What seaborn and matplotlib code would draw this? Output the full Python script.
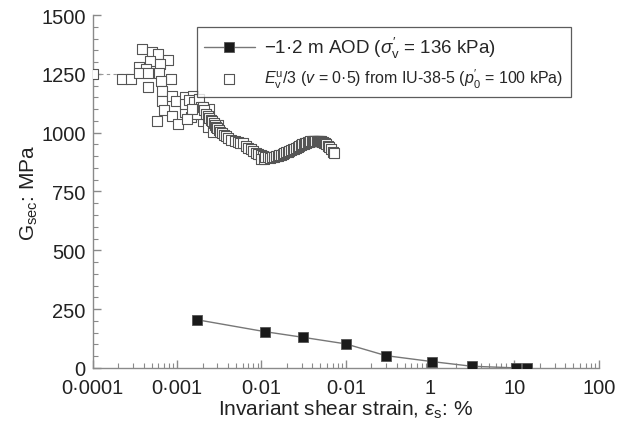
import numpy as np
import pandas as pd
import matplotlib as mpl
mpl.use("Agg")
import matplotlib.pyplot as plt
import seaborn as sns
from matplotlib.ticker import FixedLocator, FixedFormatter, LogLocator, NullFormatter, MultipleLocator

# black squares: -1.2 m AOD
aod_strain = [0.0017, 0.011, 0.031, 0.10, 0.30, 1.04, 3.1, 10.4, 14.0]
aod_g = [205, 154, 130, 102, 52, 27, 7, 0, 0]

# open squares: E_v^u/3 from IU-38-5
iu_strain = [0.0001, 0.00022, 0.00028, 0.00038, 0.0005, 0.00059, 0.00079, 0.00048, 0.00035,
             0.00043, 0.00062, 0.00035, 0.00045, 0.00061, 0.00084, 0.00045, 0.00064, 0.00066,
             0.00066, 0.0007, 0.00057, 0.00088, 0.00098, 0.00123, 0.00155, 0.00087, 0.00103,
             0.00123, 0.00148, 0.00177, 0.00203, 0.00233, 0.00267, 0.0024, 0.00306,
             0.00125, 0.0014, 0.0016, 0.0018, 0.0019, 0.0017, 0.0015, 0.0013,
             0.0020, 0.0021, 0.0022, 0.0023, 0.0024, 0.0025, 0.0026, 0.0027, 0.0028, 0.0029,
             0.0030, 0.0031, 0.0032, 0.0034, 0.0036, 0.0038,
             0.0040, 0.0044, 0.0048, 0.0052, 0.0056, 0.0060, 0.0065, 0.0070, 0.0075, 0.0080,
             0.0086, 0.0092, 0.0098, 0.0104, 0.0100, 0.0108,
             0.0110, 0.0118, 0.0125, 0.0132, 0.0140, 0.0148, 0.0155, 0.0163, 0.0170, 0.0178,
             0.0186, 0.0195, 0.0204, 0.0214, 0.0224, 0.0234, 0.0245, 0.0256, 0.0268, 0.0280,
             0.0292, 0.0305, 0.0318, 0.0330, 0.0342, 0.0355, 0.0368, 0.0380, 0.0393, 0.0407,
             0.0420, 0.0435, 0.0450, 0.0465, 0.0480, 0.0495, 0.0510, 0.0525, 0.0540, 0.0555,
             0.0570, 0.0590, 0.0610, 0.0630, 0.0660, 0.0700, 0.0720]
iu_g = [1250, 1227, 1227, 1356, 1342, 1334, 1310, 1306, 1278,
        1271, 1292, 1252, 1252, 1252, 1228, 1196, 1221, 1176,
        1136, 1097, 1048, 1157, 1136, 1150, 1157, 1072, 1037,
        1087, 1066, 1094, 1051, 1023, 1002, 1101, 1033,
        1120, 1140, 1130, 1145, 1110, 1080, 1100, 1060,
        1110, 1095, 1080, 1070, 1062, 1055, 1048, 1040, 1032, 1025,
        1018, 1012, 1005, 998, 990, 984,
        978, 970, 965, 962, 958, 955, 945, 935, 930, 922,
        915, 910, 905, 900, 890, 888,
        898, 896, 893, 895, 897, 899, 902, 905, 907, 910,
        913, 916, 919, 922, 925, 929, 932, 936, 940, 944,
        947, 950, 953, 956, 958, 960, 962, 963, 964, 965,
        966, 966, 966, 965, 965, 964, 963, 962, 960, 958,
        955, 950, 944, 938, 930, 918, 912]

# dashed guide at the initial value
dash_strain = [0.0001, 0.0007]
dash_g = [1250, 1250]

x_ticks = [0.0001, 0.001, 0.01, 0.1, 1, 10, 100]
x_labels = ["0·0001", "0·001", "0·01", "0·01", "1", "10", "100"]
y_ticks = [0, 250, 500, 750, 1000, 1250, 1500]

sns.set_style("white")
plt.rcParams["font.family"] = ["Liberation Sans", "DejaVu Sans"]
plt.rcParams["mathtext.fontset"] = "custom"
plt.rcParams["mathtext.rm"] = "Liberation Sans"
plt.rcParams["mathtext.it"] = "Liberation Sans:italic"

grey = "#8a8a8a"
txt = "#222222"
fig = plt.figure(figsize=(6.27, 4.35), dpi=100)
ax = fig.add_axes([0.148, 0.152, 0.807, 0.811])

ax.plot(dash_strain, dash_g, ls=(0, (3, 3)), color="#999999", lw=0.8, zorder=1)

df_iu = pd.DataFrame({"strain": iu_strain, "g": iu_g})
sns.scatterplot(data=df_iu, x="strain", y="g", marker="s", s=50, facecolor="white",
                edgecolor="#555555", linewidth=0.8, ax=ax, zorder=3,
                label=r"$E^{\rm u}_{\rm v}$/3 ($v$ = 0·5) from IU-38-5 ($p^{\prime}_{0}$ = 100 kPa)")

df_aod = pd.DataFrame({"strain": aod_strain, "g": aod_g})
sns.lineplot(data=df_aod, x="strain", y="g", color="#777777", lw=1.0, marker="s",
             markersize=7.5, markerfacecolor="#1a1a1a", markeredgecolor="#555555",
             markeredgewidth=0.6, ax=ax, zorder=4, sort=False,
             label=r"−1·2 m AOD ($\sigma^{\prime}_{\rm v}$ = 136 kPa)")

ax.set_xscale("log")
ax.set_xlim(0.0001, 100)
ax.set_ylim(0, 1500)
ax.xaxis.set_major_locator(FixedLocator(x_ticks))
ax.xaxis.set_major_formatter(FixedFormatter(x_labels))
ax.xaxis.set_minor_locator(LogLocator(base=10, subs=np.arange(2, 10)))
ax.xaxis.set_minor_formatter(NullFormatter())
ax.yaxis.set_major_locator(FixedLocator(y_ticks))
ax.yaxis.set_minor_locator(MultipleLocator(50))

for side in ["top", "right"]:
    ax.spines[side].set_visible(False)
for side in ["left", "bottom"]:
    ax.spines[side].set_color(grey)
    ax.spines[side].set_linewidth(1.0)
ax.tick_params(which="both", direction="in", bottom=True, left=True, color=grey,
               labelsize=14.5, labelcolor=txt)
ax.tick_params(which="major", length=6, width=1.0, pad=5)
ax.tick_params(axis="x", which="major", pad=7)
ax.tick_params(which="minor", length=3.5, width=0.8)

ax.set_xlabel(r"Invariant shear strain, $\varepsilon_{\rm s}$: %", fontsize=15, color=txt, labelpad=1)
ax.set_ylabel(r"G$_{\rm sec}$: MPa", fontsize=15, color=txt, labelpad=1)

h, l = ax.get_legend_handles_labels()
order = [1, 0]
leg = ax.legend([h[i] for i in order], [l[i] for i in order], loc="upper left",
                bbox_to_anchor=(0.205, 0.965), borderaxespad=0, fontsize=11.5,
                frameon=True, fancybox=False, handlelength=3.2, borderpad=0.45,
                labelspacing=0.45, handletextpad=0.6)
leg.get_texts()[0].set_fontsize(13.5)
leg.get_frame().set_edgecolor("#333333")
leg.get_frame().set_linewidth(0.9)

fig.savefig("out.png", dpi=100)
